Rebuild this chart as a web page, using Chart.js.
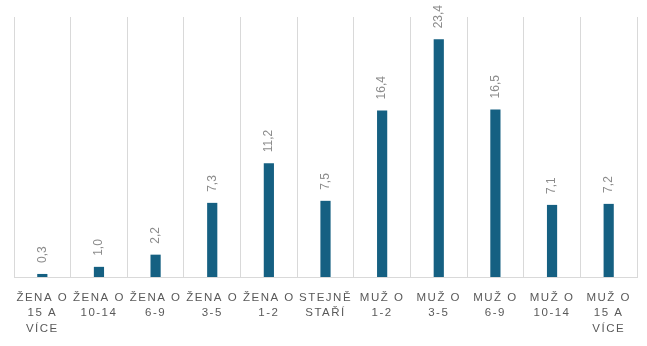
<!DOCTYPE html>
<html>
<head>
<meta charset="utf-8">
<script src="https://cdn.jsdelivr.net/npm/chart.js@4/dist/chart.umd.min.js"></script>
<style>
html,body{margin:0;padding:0;background:#fff;}
#wrap{width:647px;height:346px;}
</style>
</head>
<body>
<div id="wrap"><canvas id="c" width="647" height="346"></canvas></div>
<script>
const categories = [
  ['ŽENA O','15 A','VÍCE'],
  ['ŽENA O','10-14'],
  ['ŽENA O','6-9'],
  ['ŽENA O','3-5'],
  ['ŽENA O','1-2'],
  ['STEJNĚ','STAŘÍ'],
  ['MUŽ O','1-2'],
  ['MUŽ O','3-5'],
  ['MUŽ O','6-9'],
  ['MUŽ O','10-14'],
  ['MUŽ O','15 A','VÍCE']
];
const values = [0.3, 1.0, 2.2, 7.3, 11.2, 7.5, 16.4, 23.4, 16.5, 7.1, 7.2];
const yMax = 25.6;

const spacingPlugin = {
  id: 'spacing',
  beforeDraw(chart) { chart.ctx.letterSpacing = '1.5px'; },
  afterDatasetsDraw(chart) {
    const ctx = chart.ctx;
    ctx.save();
    ctx.letterSpacing = '0px';
    ctx.fillStyle = '#8c8c8c';
    ctx.font = '12px "Liberation Sans", Arial, sans-serif';
    ctx.textAlign = 'left';
    ctx.textBaseline = 'middle';
    const meta = chart.getDatasetMeta(0);
    meta.data.forEach((bar, i) => {
      const txt = values[i].toFixed(1).replace('.', ',');
      ctx.save();
      ctx.translate(bar.x, bar.y - 11);
      ctx.rotate(-Math.PI / 2);
      ctx.fillText(txt, 0, 0);
      ctx.restore();
    });
    ctx.restore();
    ctx.letterSpacing = '1.5px';
  }
};

new Chart(document.getElementById('c'), {
  type: 'bar',
  data: {
    labels: categories,
    datasets: [{
      data: values,
      backgroundColor: '#156082',
      categoryPercentage: 1,
      barPercentage: 0.18
    }]
  },
  options: {
    responsive: false,
    animation: false,
    devicePixelRatio: 1,
    layout: { padding: { left: 14, right: 10, top: 17, bottom: 9 } },
    plugins: { legend: { display: false }, tooltip: { enabled: false } },
    scales: {
      x: {
        afterFit(scale) { scale.height = 60; },
        grid: { color: '#d9d9d9', drawTicks: false, offset: true },
        border: { color: '#d9d9d9' },
        ticks: {
          color: '#595959',
          padding: 13,
          maxRotation: 0,
          autoSkip: false,
          font: { family: '"Liberation Sans", Arial, sans-serif', size: 11.5, lineHeight: '15.5px' }
        }
      },
      y: { display: false, min: 0, max: yMax }
    }
  },
  plugins: [spacingPlugin]
});
</script>
</body>
</html>
